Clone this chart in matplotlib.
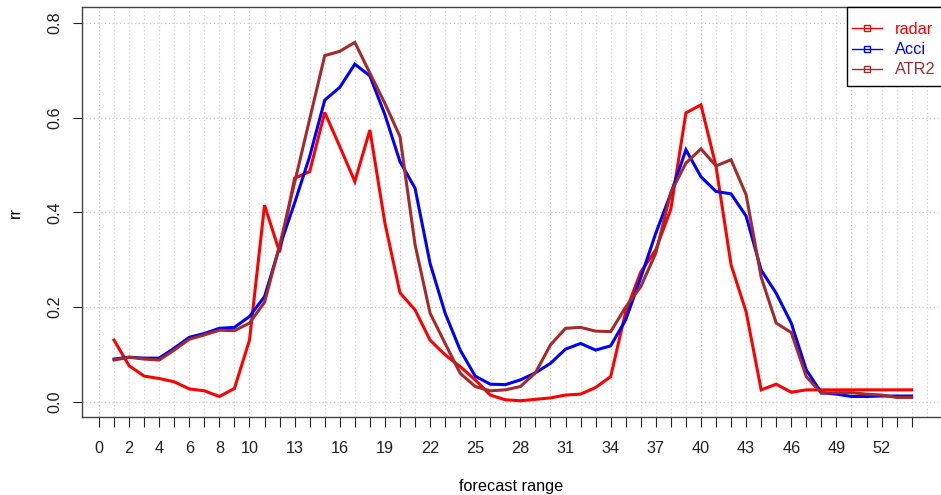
#!/usr/bin/env python3

from __future__ import annotations

import matplotlib

matplotlib.use("Agg")
import matplotlib.pyplot as plt
from matplotlib.lines import Line2D
from matplotlib.patches import Rectangle

FONT = "Liberation Sans"
FONTSIZE = 11.7

# forecast range (hours)
forecast = list(range(1, 55))

radar = [
    0.130, 0.076, 0.054, 0.049, 0.042, 0.027, 0.023, 0.011, 0.028, 0.130,
    0.415, 0.316, 0.472, 0.486, 0.611, 0.539, 0.465, 0.574, 0.377, 0.230,
    0.194, 0.130, 0.099, 0.074, 0.046, 0.014, 0.004, 0.002, 0.005, 0.008,
    0.014, 0.016, 0.030, 0.053, 0.190, 0.274, 0.321, 0.407, 0.610, 0.627,
    0.497, 0.289, 0.190, 0.025, 0.037, 0.020, 0.025, 0.025, 0.025, 0.025,
    0.025, 0.025, 0.025, 0.025,
]
acci = [
    0.090, 0.094, 0.092, 0.092, 0.113, 0.136, 0.144, 0.155, 0.157, 0.180,
    0.222, 0.327, 0.420, 0.518, 0.637, 0.664, 0.713, 0.688, 0.606, 0.507,
    0.451, 0.292, 0.187, 0.109, 0.054, 0.037, 0.036, 0.046, 0.061, 0.081,
    0.111, 0.123, 0.109, 0.118, 0.173, 0.262, 0.356, 0.440, 0.532, 0.475,
    0.444, 0.439, 0.392, 0.278, 0.229, 0.166, 0.067, 0.019, 0.016, 0.011,
    0.011, 0.012, 0.012, 0.012,
]
atr2 = [
    0.088, 0.094, 0.090, 0.088, 0.109, 0.132, 0.141, 0.151, 0.150, 0.166,
    0.210, 0.330, 0.463, 0.597, 0.731, 0.740, 0.759, 0.694, 0.630, 0.560,
    0.332, 0.187, 0.123, 0.060, 0.032, 0.023, 0.025, 0.032, 0.061, 0.120,
    0.155, 0.157, 0.149, 0.148, 0.200, 0.243, 0.314, 0.442, 0.504, 0.534,
    0.498, 0.511, 0.437, 0.263, 0.166, 0.146, 0.053, 0.018, 0.019, 0.019,
    0.016, 0.014, 0.009, 0.009,
]

series_names = ["radar", "Acci", "ATR2"]
series_colors = ["#ff0000", "#0000ff", "#a52a2a"]

x_ticks = list(range(0, 55))
x_labelled = [0, 2, 4, 6, 8, 10, 13, 16, 19, 22, 25, 28, 31, 34, 37, 40, 43, 46, 49, 52]
y_ticks = [0.0, 0.2, 0.4, 0.6, 0.8]


def px(x: float, y: float) -> tuple[float, float]:
    # pixel position (from top-left) to figure fraction
    return x / 941, 1 - y / 495


def main() -> None:
    plt.rcParams["font.family"] = [FONT, "DejaVu Sans"]
    fig = plt.figure(figsize=(9.41, 4.95), dpi=100)
    left, top = px(82, 7.3)
    _, bottom = px(0, 416.7)
    ax = fig.add_axes([left, bottom, 1 - left, top - bottom])

    # dotted grid, every hour plus the y ticks
    for xv in range(0, 56):
        col = "#bdbdbd" if xv % 10 == 0 else "#d3d3d3"
        ax.axvline(xv, color=col, linestyle=(0, (1, 2)), linewidth=0.9, zorder=0)
    for yv in y_ticks:
        ax.axhline(yv, color="#c8c8c8", linestyle=(0, (1, 2)), linewidth=0.9, zorder=0)

    for values, name, color in zip([radar, acci, atr2], series_names, series_colors):
        ax.plot(forecast, values, color=color, linewidth=2.2, label=name, zorder=3,
                solid_joinstyle="miter")

    ax.set_xlim(-1.13, 55.95)
    ax.set_ylim(-0.0317, 0.833)
    ax.set_xticks(x_ticks)
    ax.set_xticklabels([str(t) if t in x_labelled else "" for t in x_ticks])
    ax.set_yticks(y_ticks)
    ax.set_yticklabels([f"{v:.1f}" for v in y_ticks], rotation=90, va="center")
    ax.tick_params(axis="x", length=7.2, width=0.8, pad=10, labelsize=FONTSIZE, colors="#222222")
    ax.tick_params(axis="y", length=6.5, width=0.8, pad=7.5, labelsize=FONTSIZE, colors="#222222")
    for side in ("left", "top", "bottom"):
        ax.spines[side].set_color("#444444")
        ax.spines[side].set_linewidth(1.0)
    ax.spines["right"].set_visible(False)

    fig.text(*px(511.5, 487), "forecast range", ha="center", va="center", fontsize=FONTSIZE)
    fig.text(*px(15, 212), "rr", ha="center", va="center", rotation=90, fontsize=FONTSIZE)

    # legend box
    bx0, by0 = px(847, 86)
    bx1, by1 = px(960, 7.3)
    fig.patches.append(Rectangle((bx0, by0), bx1 - bx0, by1 - by0, transform=fig.transFigure,
                                 facecolor="white", edgecolor="black", linewidth=1.0, zorder=5))
    handles = [
        Line2D([], [], color=c, linewidth=1.0, marker="s", markersize=5,
               markerfacecolor="none", markeredgecolor=c, markeredgewidth=1.0)
        for c in series_colors
    ]
    leg = fig.legend(handles, series_names, loc="upper left", bbox_to_anchor=px(852, 22),
                     frameon=False, borderpad=0, borderaxespad=0, handlelength=1.85,
                     handletextpad=0.8, labelspacing=0.32, fontsize=FONTSIZE,
                     labelcolor="linecolor")
    leg.set_zorder(6)

    fig.savefig("out.png", dpi=100)
    plt.close(fig)


if __name__ == "__main__":
    main()
